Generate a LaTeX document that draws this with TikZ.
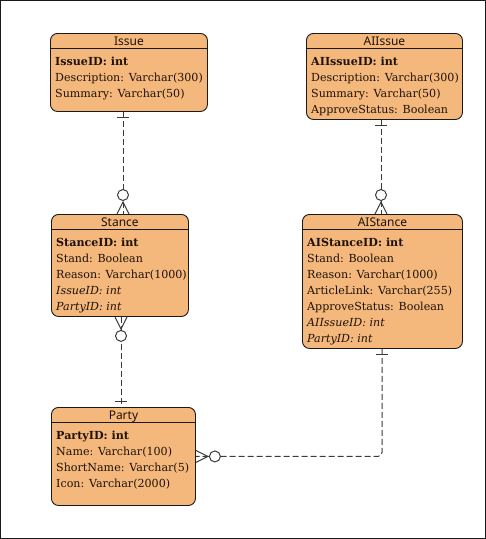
\documentclass[tikz,border=0pt]{standalone}
\usepackage{fontspec}
\setmainfont{DejaVu Serif}
\newfontfamily\headfont{Noto Sans}

\definecolor{boxfill}{HTML}{F4B77C}
\definecolor{boxline}{HTML}{1A1A1A}
\definecolor{linkcol}{HTML}{3A3A3A}
\definecolor{textcol}{HTML}{1E1208}

\tikzset{
  entity/.style={draw=boxline, fill=boxfill, line width=0.9pt, rounded corners=7pt,
                 anchor=north west, inner sep=0pt},
  head/.style={anchor=base, inner sep=0pt, text=textcol, font=\headfont\fontsize{12}{14}\selectfont},
  rows/.style={anchor=north west, align=left, inner sep=0pt, text=textcol,
               font=\fontsize{11.1}{16}\selectfont},
  link/.style={draw=linkcol, line width=1pt, dash pattern=on 6pt off 3pt},
  endmark/.style={draw=linkcol, line width=1pt}
}
% box with its title bar
\newcommand{\entity}[6]{% name, x, y, width, height, title
  \node[entity, minimum width=#4pt, minimum height=#5pt] (#1) at (#2,#3) {};
  \draw[boxline, line width=0.8pt] ([yshift=-15pt]#1.north west) -- ([yshift=-15pt]#1.north east);
  \node[head] (#1-title) at ([yshift=-12pt]#1.north) {#6};
}

\begin{document}
\begin{tikzpicture}[x=1pt,y=-1pt]
\useasboundingbox (0,0) rectangle (486,539);
\draw[boxline, line width=1pt] (0.5,0.5) rectangle (485.5,538.5);

\entity{issue}{50}{33}{157}{78}{Issue}
\node[rows] (issue-rows) at ([shift={(5pt,-24pt)}]issue.north west)
  {\textbf{IssueID: int}\\Description: Varchar(300)\\Summary: Varchar(50)};

\entity{aiissue}{306}{33}{156}{86}{AIIssue}
\node[rows] (aiissue-rows) at ([shift={(5pt,-24pt)}]aiissue.north west)
  {\textbf{AIIssueID: int}\\Description: Varchar(300)\\Summary: Varchar(50)\\ApproveStatus: Boolean};

\entity{stance}{51}{214}{137}{102}{Stance}
\node[rows] (stance-rows) at ([shift={(5pt,-24pt)}]stance.north west)
  {\textbf{StanceID: int}\\Stand: Boolean\\Reason: Varchar(1000)\\\textit{IssueID: int}\\\textit{PartyID: int}};

\entity{aistance}{302}{214}{160}{134}{AIStance}
\node[rows] (aistance-rows) at ([shift={(5pt,-24pt)}]aistance.north west)
  {\textbf{AIStanceID: int}\\Stand: Boolean\\Reason: Varchar(1000)\\ArticleLink: Varchar(255)\\ApproveStatus: Boolean\\\textit{AIIssueID: int}\\\textit{PartyID: int}};

\entity{party}{51}{407}{144}{98}{Party}
\node[rows] (party-rows) at ([shift={(5pt,-24pt)}]party.north west)
  {\textbf{PartyID: int}\\Name: Varchar(100)\\ShortName: Varchar(5)\\Icon: Varchar(2000)};

% where the links run
\coordinate (lineA) at (123,0);
\coordinate (lineB) at (381,0);
\coordinate (lineC) at (121,0);
\coordinate (lineD) at (382,0);

% Issue -- Stance
\draw[link] (issue.south -| lineA) -- (stance.north -| lineA);
\draw[endmark] (issue.south -| lineA) ++(-6,6) -- ++(12,0);
\draw[endmark] (stance.north -| lineA) ++(-6,0) -- ++(6,-12) -- ++(6,12);
\draw[endmark, fill=white] (stance.north -| lineA) ++(0,-19) circle[radius=5.5];

% AIIssue -- AIStance
\draw[link] (aiissue.south -| lineB) -- (aistance.north -| lineB);
\draw[endmark] (aiissue.south -| lineB) ++(-6,6) -- ++(12,0);
\draw[endmark] (aistance.north -| lineB) ++(-6,0) -- ++(6,-12) -- ++(6,12);
\draw[endmark, fill=white] (aistance.north -| lineB) ++(0,-19) circle[radius=5.5];

% Stance -- Party
\draw[link] (stance.south -| lineC) -- (party.north -| lineC);
\draw[endmark] (party.north -| lineC) ++(-6,-6) -- ++(12,0);
\draw[endmark] (stance.south -| lineC) ++(-6,0) -- ++(6,12) -- ++(6,-12);
\draw[endmark, fill=white] (stance.south -| lineC) ++(0,19) circle[radius=5.5];

% AIStance -- Party
\draw[link, rounded corners=4pt] (aistance.south -| lineD) |- (party.east);
\draw[endmark] (aistance.south -| lineD) ++(-6,6) -- ++(12,0);
\draw[endmark] (party.east) ++(0,-6) -- ++(12,6) -- ++(-12,6);
\draw[endmark, fill=white] (party.east) ++(19,0) circle[radius=5.5];
\end{tikzpicture}
\end{document}
